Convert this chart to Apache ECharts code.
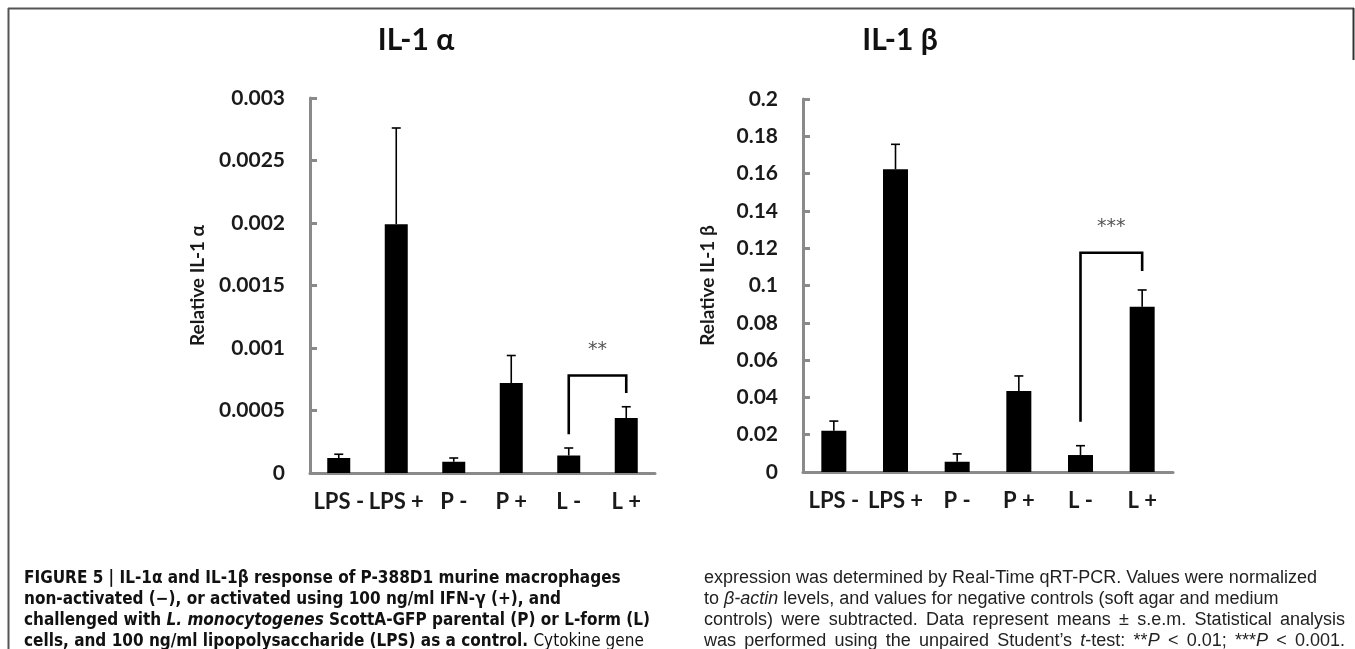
<!DOCTYPE html>
<html>
<head>
<meta charset="utf-8">
<script src="https://cdn.jsdelivr.net/npm/echarts@6/dist/echarts.min.js"></script>
<style>
  html, body { margin:0; padding:0; background:#fff; }
  #chart { position:absolute; left:0; top:0; width:1355px; height:649px; }
  .cap { position:absolute; line-height:21px; color:#111; white-space:nowrap; }
  .capL { font-family:"DejaVu Sans Condensed","Liberation Sans",sans-serif; font-weight:bold; font-size:17px; }
  .capR { font-family:"Liberation Sans","DejaVu Sans Condensed",sans-serif; font-size:18px; color:#222; }
  .cap .n { font-weight:normal; }
  .cap div.j { text-align:justify; text-align-last:justify; }
</style>
</head>
<body>
<div id="chart"></div>
<div class="cap capL" style="left:24px; top:567px;">
  <div>FIGURE 5 | IL-1α and IL-1β response of P-388D1 murine macrophages</div>
  <div>non-activated (−), or activated using 100 ng/ml IFN-γ (+), and</div>
  <div>challenged with <i>L. monocytogenes</i> ScottA-GFP parental (P) or L-form (L)</div>
  <div>cells, and 100 ng/ml lipopolysaccharide (LPS) as a control. <span class="n">Cytokine gene</span></div>
</div>
<div class="cap capR" style="left:704px; top:567px;">
  <div>expression was determined by Real-Time qRT-PCR. Values were normalized</div>
  <div>to <i>β-actin</i> levels, and values for negative controls (soft agar and medium</div>
  <div class="j" style="width:641px">controls) were subtracted. Data represent means ± s.e.m. Statistical analysis</div>
  <div class="j" style="width:641px">was performed using the unpaired Student’s <i>t</i>-test: **<i>P</i> &lt; 0.01; ***<i>P</i> &lt; 0.001.</div>
</div>
<script>
// ---------- data ----------
const categories = ['LPS -', 'LPS +', 'P -', 'P +', 'L -', 'L +'];
const alphaMeans  = [0.00012, 0.00199, 0.00009, 0.00072, 0.00014, 0.00044];
const alphaErrors = [0.00003, 0.00077, 0.00003, 0.00022, 0.00006, 0.00009];
const betaMeans   = [0.0221, 0.1623, 0.0055, 0.0434, 0.0091, 0.0886];
const betaErrors  = [0.0052, 0.0134, 0.0042, 0.0081, 0.0050, 0.0090];
const alphaTicks = ['0', '0.0005', '0.001', '0.0015', '0.002', '0.0025', '0.003'];
const betaTicks  = ['0', '0.02', '0.04', '0.06', '0.08', '0.1', '0.12', '0.14', '0.16', '0.18', '0.2'];
// significance brackets: [fromIndex, toIndex, leftEndValue, topValue, rightEndValue, starsValue]
const alphaBracket = [4, 5, 0.00031, 0.00078, 0.00064, 0.00098];
const betaBracket  = [4, 5, 0.027, 0.1176, 0.1078, 0.1315];
const alphaStars = '**';
const betaStars = '***';

// ---------- chart ----------
const chart = echarts.init(document.getElementById('chart'));
const axisGrey = '#8a8a8a';
const labelFont = { fontFamily: 'Lato', fontWeight: 'bold', color: '#1a1a1a' };

function errRender(params, api) {
  const x = api.value(0), v = api.value(1), e = api.value(2);
  const b = api.coord([x, v]);
  const t = api.coord([x, v + e]);
  const hw = 4.5;
  return { type: 'group', children: [
    { type: 'line', shape: { x1: b[0], y1: b[1], x2: t[0], y2: t[1] }, style: { stroke: '#000', lineWidth: 1.6 } },
    { type: 'line', shape: { x1: t[0] - hw, y1: t[1], x2: t[0] + hw, y2: t[1] }, style: { stroke: '#000', lineWidth: 1.6 } }
  ]};
}
function bracketRender(stars) {
  return function (params, api) {
    const f = api.value(0), t = api.value(1);
    const p1 = api.coord([f, api.value(2)]);
    const p2 = api.coord([f, api.value(3)]);
    const p3 = api.coord([t, api.value(3)]);
    const p4 = api.coord([t, api.value(4)]);
    const s = api.coord([f, api.value(5)]);
    const s2 = api.coord([t, api.value(5)]);
    return { type: 'group', children: [
      { type: 'polyline', shape: { points: [p1, p2, p3, p4] }, style: { stroke: '#000', lineWidth: 2.6, fill: null } },
      { type: 'text', x: (s[0] + s2[0]) / 2, y: s[1], style: { text: stars, fontFamily: 'DejaVu Sans', fontSize: 19, fill: '#555', align: 'center', verticalAlign: 'middle' } }
    ]};
  };
}

function yAxis(gridIndex, max, interval, ticks, name, nameGap) {
  return {
    type: 'value', gridIndex, min: 0, max, interval,
    name, nameLocation: 'middle', nameRotate: 90, nameGap,
    nameTextStyle: { fontFamily: 'Lato', fontWeight: 'bold', fontSize: 19, color: '#1a1a1a' },
    axisLine: { show: true, lineStyle: { color: axisGrey, width: 3 } },
    axisTick: { show: true, inside: true, length: 7, lineStyle: { color: axisGrey, width: 3 } },
    splitLine: { show: false },
    axisLabel: Object.assign({ fontSize: 21, margin: 25, formatter: (v, i) => ticks[i] }, labelFont)
  };
}
function xAxis(gridIndex) {
  return {
    type: 'category', gridIndex, data: categories,
    axisLine: { show: true, lineStyle: { color: axisGrey, width: 3 } },
    axisTick: { show: false },
    axisLabel: Object.assign({ fontSize: 22, margin: 18, interval: 0 }, labelFont)
  };
}

chart.setOption({
  animation: false,
  backgroundColor: '#fff',
  title: [
    { text: 'IL-1 α', left: 411, top: 20, textAlign: 'center', textStyle: { fontFamily: 'Lato', fontWeight: 'bold', fontSize: 30, color: '#111' } },
    { text: 'IL-1 β', left: 895, top: 20, textAlign: 'center', textStyle: { fontFamily: 'Lato', fontWeight: 'bold', fontSize: 30, color: '#111' } }
  ],
  grid: [
    { left: 310, top: 98, width: 345, height: 375 },
    { left: 803, top: 99, width: 370, height: 373 }
  ],
  xAxis: [xAxis(0), xAxis(1)],
  yAxis: [
    yAxis(0, 0.003, 0.0005, alphaTicks, 'Relative IL-1 α', 103),
    yAxis(1, 0.2, 0.02, betaTicks, 'Relative IL-1 β', 86)
  ],
  graphic: [
    { type: 'line', shape: { x1: 8, y1: 8.5, x2: 1354, y2: 8.5 }, style: { stroke: '#555', lineWidth: 2 } },
    { type: 'line', shape: { x1: 8.5, y1: 8, x2: 8.5, y2: 649 }, style: { stroke: '#555', lineWidth: 2 } },
    { type: 'line', shape: { x1: 1353.5, y1: 8, x2: 1353.5, y2: 60 }, style: { stroke: '#333', lineWidth: 2 } }
  ],
  series: [
    { type: 'bar', xAxisIndex: 0, yAxisIndex: 0, data: alphaMeans, barWidth: 23, itemStyle: { color: '#000' } },
    { type: 'custom', xAxisIndex: 0, yAxisIndex: 0, renderItem: errRender, data: alphaMeans.map((v, i) => [i, v, alphaErrors[i]]), z: 5 },
    { type: 'custom', xAxisIndex: 0, yAxisIndex: 0, renderItem: bracketRender(alphaStars), data: [alphaBracket], z: 6 },
    { type: 'bar', xAxisIndex: 1, yAxisIndex: 1, data: betaMeans, barWidth: 25, itemStyle: { color: '#000' } },
    { type: 'custom', xAxisIndex: 1, yAxisIndex: 1, renderItem: errRender, data: betaMeans.map((v, i) => [i, v, betaErrors[i]]), z: 5 },
    { type: 'custom', xAxisIndex: 1, yAxisIndex: 1, renderItem: bracketRender(betaStars), data: [betaBracket], z: 6 }
  ]
});
</script>
</body>
</html>
